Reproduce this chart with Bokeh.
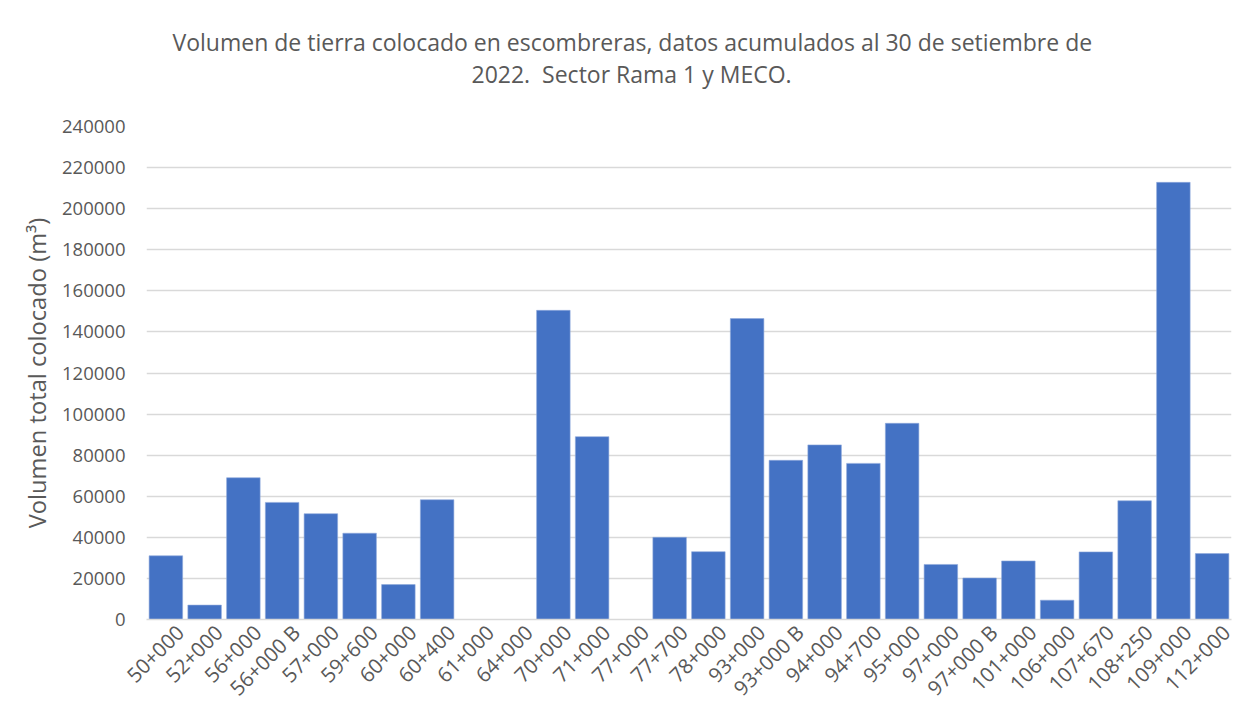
import math
from bokeh.plotting import figure
from bokeh.models import (ColumnDataSource, Title, Range1d,
                          SingleIntervalTicker, NumeralTickFormatter, FixedTicker)
from bokeh.embed import file_html
from bokeh.resources import INLINE

categories = ["50+000", "52+000", "56+000", "56+000 B", "57+000", "59+600", "60+000",
              "60+400", "61+000", "64+000", "70+000", "71+000", "77+000", "77+700",
              "78+000", "93+000", "93+000 B", "94+000", "94+700", "95+000", "97+000",
              "97+000 B", "101+000", "106+000", "107+670", "108+250", "109+000", "112+000"]
volumes = [31000, 7000, 69000, 57000, 51500, 42000, 17000,
           58300, 0, 0, 150500, 89000, 0, 40000,
           33000, 146500, 77500, 85000, 76000, 95500, 26800,
           20200, 28500, 9400, 32900, 57800, 212800, 32100]

title_line1 = "Volumen de tierra colocado en escombreras, datos acumulados al 30 de setiembre de"
title_line2 = "2022.\u00a0 Sector Rama 1 y MECO."
y_label = "Volumen total colocado (m\u00b3)"

FONT = "Open Sans"
TXT = "#595959"

n = len(categories)
xpos = [i + 0.5 for i in range(n)]
source = ColumnDataSource(data=dict(x=xpos, cat=categories, vol=volumes))

p = figure(width=1238, height=721, x_range=Range1d(0, n),
           y_range=Range1d(0, 240000), output_backend="svg", toolbar_location=None,
           min_border_left=146, min_border_right=7, min_border_top=126, min_border_bottom=102)

p.vbar(x="x", top="vol", width=0.865, source=source, fill_color="#4472C4",
       line_color="#8FA9DC", line_width=0.6)

# titles: first added sits closest to the plot frame
p.add_layout(Title(text=title_line2, align="left", text_font=FONT, text_font_size="23px",
                   text_color=TXT, text_font_style="normal", standoff=74, offset=325), "above")
p.add_layout(Title(text=title_line1, align="left", text_font=FONT, text_font_size="23px",
                   text_color=TXT, text_font_style="normal", standoff=-79, offset=26), "above")

p.outline_line_color = None
p.background_fill_color = "white"
p.border_fill_color = "white"

p.xgrid.grid_line_color = None
p.ygrid.grid_line_color = "#D9D9D9"
p.ygrid.grid_line_width = 1.3
p.yaxis.ticker = SingleIntervalTicker(interval=20000)
p.yaxis.formatter = NumeralTickFormatter(format="0")

p.yaxis.axis_line_color = None
p.yaxis.major_tick_line_color = None
p.yaxis.minor_tick_line_color = None
p.yaxis.major_label_standoff = 15
p.yaxis.major_label_text_font = FONT
p.yaxis.major_label_text_font_size = "18.5px"
p.yaxis.major_label_text_color = TXT
p.yaxis.axis_label = y_label
p.yaxis.axis_label_text_font = FONT
p.yaxis.axis_label_text_font_size = "23.7px"
p.yaxis.axis_label_text_font_style = "normal"
p.yaxis.axis_label_text_color = TXT
p.yaxis.axis_label_standoff = 6

# category labels: rotated ends sit slightly right of each bar centre, as in the reference
shift = 0.36
tick_pos = [x + shift for x in xpos]
p.xaxis.ticker = FixedTicker(ticks=tick_pos)
p.xaxis.major_label_overrides = {t: c for t, c in zip(tick_pos, categories)}
p.xaxis.axis_line_color = "#D9D9D9"
p.xaxis.axis_line_width = 1.5
p.xaxis.major_tick_line_color = None
p.xaxis.minor_tick_line_color = None
p.xaxis.major_tick_out = 0
p.xaxis.major_label_orientation = math.pi / 4
p.xaxis.major_label_standoff = 9
p.xaxis.major_label_text_font = FONT
p.xaxis.major_label_text_font_size = "20.5px"
p.xaxis.major_label_text_color = TXT

open("out.html", "w").write(file_html(p, INLINE))
